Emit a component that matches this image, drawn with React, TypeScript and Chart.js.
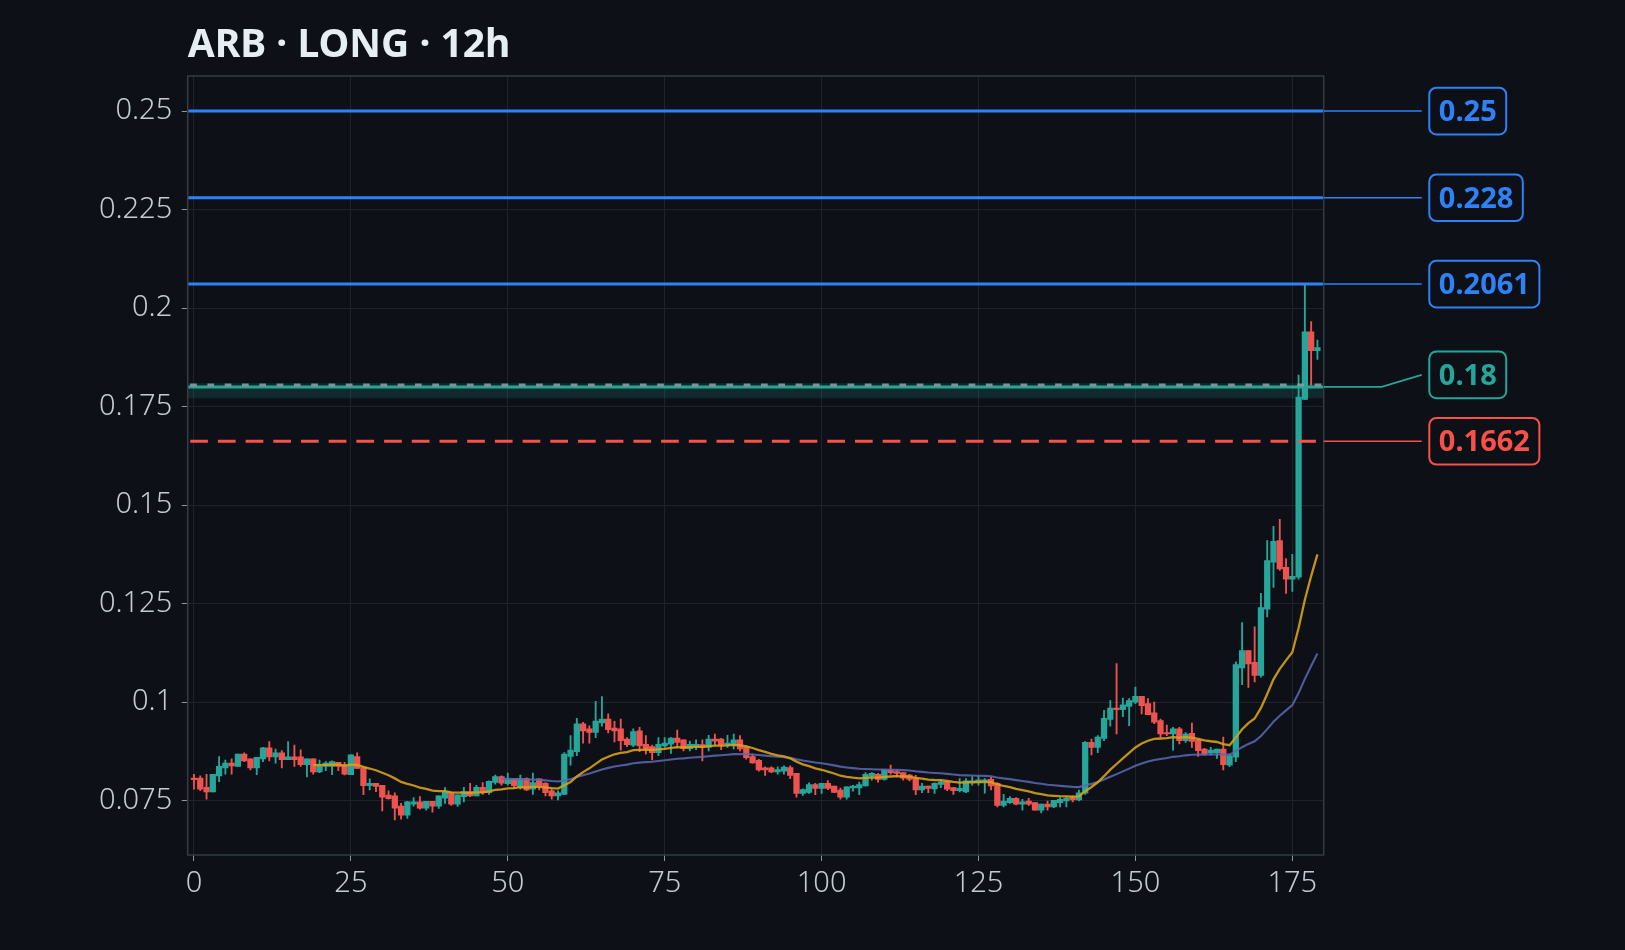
import React, { useEffect, useRef } from "react";
import { Chart, registerables } from "chart.js";

Chart.register(...registerables);

// ---------------- data ----------------
const TITLE = "ARB · LONG · 12h";

const OPEN = [
  0.0807, 0.0807, 0.0784, 0.0772, 0.0813, 0.0833, 0.0845, 0.0837, 0.0868, 0.0856,
  0.0833, 0.0856, 0.0884, 0.0861, 0.0871, 0.0854, 0.0861, 0.0861, 0.0841, 0.0856,
  0.0823, 0.0837, 0.0837, 0.0847, 0.0840, 0.0816, 0.0862, 0.0834, 0.0788, 0.0794,
  0.0789, 0.0764, 0.0762, 0.0736, 0.0713, 0.0741, 0.0747, 0.0731, 0.0748, 0.0736,
  0.0756, 0.0770, 0.0741, 0.0760, 0.0773, 0.0762, 0.0784, 0.0770, 0.0796, 0.0811,
  0.0793, 0.0805, 0.0783, 0.0806, 0.0779, 0.0805, 0.0794, 0.0775, 0.0762, 0.0766,
  0.0862, 0.0874, 0.0945, 0.0932, 0.0923, 0.0947, 0.0957, 0.0934, 0.0932, 0.0906,
  0.0891, 0.0927, 0.0893, 0.0887, 0.0872, 0.0889, 0.0893, 0.0909, 0.0904, 0.0882,
  0.0887, 0.0892, 0.0885, 0.0906, 0.0906, 0.0891, 0.0891, 0.0904, 0.0885, 0.0862,
  0.0852, 0.0833, 0.0833, 0.0823, 0.0825, 0.0834, 0.0819, 0.0768, 0.0771, 0.0791,
  0.0781, 0.0794, 0.0787, 0.0777, 0.0759, 0.0782, 0.0782, 0.0787, 0.0812, 0.0817,
  0.0804, 0.0828, 0.0824, 0.0821, 0.0815, 0.0807, 0.0777, 0.0787, 0.0780, 0.0791,
  0.0798, 0.0783, 0.0775, 0.0772, 0.0796, 0.0796, 0.0798, 0.0804, 0.0794, 0.0738,
  0.0745, 0.0756, 0.0741, 0.0749, 0.0745, 0.0726, 0.0741, 0.0734, 0.0745, 0.0749,
  0.0758, 0.0752, 0.0769, 0.0898, 0.0885, 0.0908, 0.0956, 0.0985, 0.0981, 0.0989,
  0.1000, 0.1015, 0.0996, 0.0973, 0.0953, 0.0923, 0.0919, 0.0932, 0.0902, 0.0921,
  0.0904, 0.0881, 0.0871, 0.0872, 0.0881, 0.0840, 0.0860, 0.1087, 0.1131, 0.1101,
  0.1068, 0.1236, 0.1355, 0.1410, 0.1342, 0.1312, 0.1317, 0.1768, 0.1940, 0.1892,
];

const HIGH = [
  0.0817, 0.0813, 0.0817, 0.0817, 0.0862, 0.0853, 0.0856, 0.0868, 0.0871, 0.0856,
  0.0860, 0.0885, 0.0900, 0.0881, 0.0877, 0.0900, 0.0891, 0.0879, 0.0856, 0.0856,
  0.0853, 0.0849, 0.0851, 0.0847, 0.0847, 0.0866, 0.0871, 0.0834, 0.0805, 0.0794,
  0.0789, 0.0775, 0.0770, 0.0743, 0.0748, 0.0758, 0.0760, 0.0748, 0.0748, 0.0762,
  0.0783, 0.0770, 0.0765, 0.0784, 0.0794, 0.0789, 0.0796, 0.0800, 0.0815, 0.0813,
  0.0820, 0.0805, 0.0815, 0.0808, 0.0820, 0.0805, 0.0796, 0.0779, 0.0775, 0.0872,
  0.0915, 0.0959, 0.0949, 0.0940, 0.1002, 0.1014, 0.0970, 0.0951, 0.0957, 0.0910,
  0.0932, 0.0936, 0.0915, 0.0891, 0.0910, 0.0910, 0.0910, 0.0929, 0.0904, 0.0901,
  0.0904, 0.0904, 0.0916, 0.0919, 0.0908, 0.0916, 0.0919, 0.0915, 0.0889, 0.0868,
  0.0855, 0.0836, 0.0836, 0.0836, 0.0838, 0.0838, 0.0819, 0.0780, 0.0795, 0.0794,
  0.0794, 0.0801, 0.0787, 0.0782, 0.0785, 0.0789, 0.0797, 0.0821, 0.0821, 0.0819,
  0.0829, 0.0840, 0.0827, 0.0821, 0.0817, 0.0814, 0.0794, 0.0787, 0.0795, 0.0803,
  0.0798, 0.0783, 0.0806, 0.0806, 0.0811, 0.0812, 0.0806, 0.0809, 0.0796, 0.0766,
  0.0760, 0.0758, 0.0753, 0.0756, 0.0745, 0.0741, 0.0749, 0.0751, 0.0758, 0.0760,
  0.0762, 0.0777, 0.0900, 0.0906, 0.0915, 0.0979, 0.1004, 0.1098, 0.1010, 0.1009,
  0.1038, 0.1015, 0.1009, 0.1000, 0.0957, 0.0942, 0.0936, 0.0936, 0.0923, 0.0947,
  0.0906, 0.0883, 0.0885, 0.0881, 0.0911, 0.0868, 0.1102, 0.1202, 0.1131, 0.1191,
  0.1276, 0.1410, 0.1446, 0.1464, 0.1364, 0.1375, 0.1830, 0.2061, 0.1966, 0.1919,
];

const LOW = [
  0.0779, 0.0775, 0.0754, 0.0772, 0.0798, 0.0817, 0.0817, 0.0837, 0.0849, 0.0828,
  0.0816, 0.0849, 0.0851, 0.0845, 0.0833, 0.0854, 0.0837, 0.0837, 0.0810, 0.0817,
  0.0821, 0.0826, 0.0816, 0.0826, 0.0815, 0.0816, 0.0832, 0.0765, 0.0777, 0.0773,
  0.0724, 0.0754, 0.0701, 0.0703, 0.0705, 0.0736, 0.0728, 0.0726, 0.0721, 0.0730,
  0.0743, 0.0738, 0.0735, 0.0747, 0.0760, 0.0762, 0.0766, 0.0766, 0.0792, 0.0789,
  0.0789, 0.0781, 0.0779, 0.0775, 0.0766, 0.0777, 0.0762, 0.0754, 0.0752, 0.0766,
  0.0840, 0.0864, 0.0896, 0.0896, 0.0910, 0.0939, 0.0922, 0.0899, 0.0878, 0.0887,
  0.0887, 0.0874, 0.0868, 0.0853, 0.0864, 0.0885, 0.0870, 0.0885, 0.0876, 0.0876,
  0.0879, 0.0851, 0.0876, 0.0891, 0.0879, 0.0885, 0.0881, 0.0876, 0.0855, 0.0845,
  0.0825, 0.0814, 0.0821, 0.0817, 0.0817, 0.0806, 0.0759, 0.0763, 0.0768, 0.0765,
  0.0768, 0.0778, 0.0770, 0.0754, 0.0754, 0.0774, 0.0765, 0.0787, 0.0802, 0.0797,
  0.0802, 0.0817, 0.0811, 0.0802, 0.0800, 0.0765, 0.0770, 0.0770, 0.0768, 0.0783,
  0.0775, 0.0766, 0.0772, 0.0770, 0.0789, 0.0789, 0.0769, 0.0777, 0.0734, 0.0734,
  0.0743, 0.0739, 0.0726, 0.0738, 0.0726, 0.0719, 0.0726, 0.0732, 0.0734, 0.0734,
  0.0747, 0.0749, 0.0766, 0.0866, 0.0872, 0.0902, 0.0939, 0.0919, 0.0963, 0.0940,
  0.0996, 0.0970, 0.0968, 0.0945, 0.0911, 0.0915, 0.0878, 0.0894, 0.0898, 0.0885,
  0.0862, 0.0866, 0.0866, 0.0857, 0.0828, 0.0836, 0.0849, 0.1044, 0.1037, 0.1051,
  0.1063, 0.1216, 0.1291, 0.1334, 0.1276, 0.1281, 0.1312, 0.1768, 0.1804, 0.1870,
];

const CLOSE = [
  0.0803, 0.0779, 0.0772, 0.0817, 0.0837, 0.0845, 0.0838, 0.0868, 0.0851, 0.0833,
  0.0860, 0.0884, 0.0861, 0.0871, 0.0854, 0.0861, 0.0854, 0.0841, 0.0856, 0.0823,
  0.0838, 0.0845, 0.0849, 0.0837, 0.0817, 0.0866, 0.0832, 0.0788, 0.0794, 0.0786,
  0.0759, 0.0755, 0.0731, 0.0713, 0.0747, 0.0747, 0.0731, 0.0748, 0.0736, 0.0762,
  0.0772, 0.0741, 0.0765, 0.0773, 0.0762, 0.0784, 0.0770, 0.0799, 0.0811, 0.0794,
  0.0805, 0.0788, 0.0806, 0.0777, 0.0796, 0.0788, 0.0770, 0.0762, 0.0770, 0.0868,
  0.0878, 0.0945, 0.0927, 0.0923, 0.0952, 0.0957, 0.0930, 0.0927, 0.0902, 0.0892,
  0.0925, 0.0889, 0.0882, 0.0872, 0.0893, 0.0896, 0.0909, 0.0898, 0.0882, 0.0893,
  0.0893, 0.0885, 0.0906, 0.0901, 0.0891, 0.0896, 0.0904, 0.0881, 0.0859, 0.0846,
  0.0828, 0.0828, 0.0823, 0.0829, 0.0835, 0.0814, 0.0768, 0.0778, 0.0791, 0.0781,
  0.0794, 0.0781, 0.0771, 0.0759, 0.0785, 0.0787, 0.0791, 0.0817, 0.0819, 0.0804,
  0.0829, 0.0821, 0.0819, 0.0807, 0.0804, 0.0777, 0.0787, 0.0781, 0.0794, 0.0798,
  0.0779, 0.0775, 0.0781, 0.0800, 0.0800, 0.0803, 0.0803, 0.0787, 0.0738, 0.0749,
  0.0756, 0.0741, 0.0747, 0.0741, 0.0726, 0.0741, 0.0734, 0.0751, 0.0753, 0.0756,
  0.0752, 0.0770, 0.0898, 0.0885, 0.0911, 0.0959, 0.0985, 0.0981, 0.0993, 0.1004,
  0.1015, 0.0991, 0.0968, 0.0949, 0.0919, 0.0919, 0.0932, 0.0902, 0.0919, 0.0900,
  0.0877, 0.0868, 0.0878, 0.0881, 0.0841, 0.0864, 0.1095, 0.1131, 0.1097, 0.1068,
  0.1240, 0.1359, 0.1408, 0.1338, 0.1312, 0.1319, 0.1774, 0.1940, 0.1892, 0.1900,
];

const EMA_SPANS = [20, 50];

const LEVEL_VALUES = [0.25, 0.228, 0.2061, 0.18, 0.1662];
const LEVEL_TEXT = ["0.25", "0.228", "0.2061", "0.18", "0.1662"];
const LEVEL_KIND = ["target", "target", "target", "entry", "stop"];

const ENTRY_ZONE = [0.1771, 0.1809];
const MARK_PRICE = 0.1805;

const X_TICK_STEP = 25;
const Y_TICK_STEP = 0.025;
const X_RANGE = [-1, 180];
const Y_RANGE = [0.0612, 0.2589];

// ---------------- styles ----------------
const BG = "#0d1117";
const UP = "#26a69a";
const DOWN = "#ef5350";
const KIND_COLOR: Record<string, string> = {
  target: "#2f81f7",
  entry: "#26a69a",
  stop: "#f85149",
};
const EMA_COLORS = ["rgba(214,160,24,0.9)", "rgba(92,104,180,0.85)"];
const GRID = "#1f242b";
const SPINE = "#353b43";
const TICK_TEXT = "#c2cad3";
const FONT = '"Noto Sans", "Open Sans", sans-serif';

function ema(values: number[], span: number) {
  const a = 2 / (span + 1);
  const out: { x: number; y: number }[] = [];
  let prev = 0;
  for (let i = 0; i < values.length; i++) {
    if (i < span - 1) continue;
    if (i === span - 1) {
      let s = 0;
      for (let k = 0; k < span; k++) s += values[k];
      prev = s / span;
    } else {
      prev = prev + a * (values[i] - prev);
    }
    out.push({ x: i, y: prev });
  }
  return out;
}

const hline = (v: number) => [
  { x: X_RANGE[0], y: v },
  { x: X_RANGE[1], y: v },
];

const bgPlugin = {
  id: "bg",
  beforeDraw(chart: any) {
    const { ctx, width, height } = chart;
    ctx.save();
    ctx.fillStyle = BG;
    ctx.fillRect(0, 0, width, height);
    ctx.restore();
  },
};

const overlayPlugin = {
  id: "overlay",
  afterDraw(chart: any) {
    const { ctx, chartArea } = chart;
    const y = chart.scales.y;
    ctx.save();
    // frame
    ctx.strokeStyle = SPINE;
    ctx.lineWidth = 1.5;
    ctx.strokeRect(
      chartArea.left,
      chartArea.top,
      chartArea.right - chartArea.left,
      chartArea.bottom - chartArea.top
    );
    // title
    ctx.fillStyle = "#e6edf3";
    ctx.font = `bold 39px ${FONT}`;
    ctx.textBaseline = "alphabetic";
    ctx.textAlign = "left";
    ctx.fillText(TITLE, chartArea.left, 56.5);

    // level labels
    const items = LEVEL_VALUES.map((v, i) => ({
      text: LEVEL_TEXT[i],
      color: KIND_COLOR[LEVEL_KIND[i]],
      lineY: y.getPixelForValue(v),
      labelY: 0,
    }));
    items.sort((a, b) => b.lineY - a.lineY);
    const MIN_GAP = 66.4;
    let prev = Infinity;
    for (const it of items) {
      it.labelY = Math.min(it.lineY, prev - MIN_GAP);
      prev = it.labelY;
    }
    const boxX = chartArea.right + 105.6;
    const boxH = 46.7;
    ctx.font = `bold 29px ${FONT}`;
    for (const it of items) {
      ctx.strokeStyle = it.color;
      ctx.lineWidth = 1.6;
      ctx.beginPath();
      ctx.moveTo(chartArea.right, it.lineY);
      if (Math.abs(it.labelY - it.lineY) > 0.5) {
        ctx.lineTo(chartArea.right + 58, it.lineY);
      }
      ctx.lineTo(boxX - 7.6, it.labelY);
      ctx.stroke();

      const tw = ctx.measureText(it.text).width;
      const w = tw + 19;
      ctx.beginPath();
      ctx.roundRect(boxX, it.labelY - boxH / 2, w, boxH, 7);
      ctx.fillStyle = BG;
      ctx.fill();
      ctx.lineWidth = 2;
      ctx.stroke();
      ctx.fillStyle = it.color;
      ctx.fillText(it.text, boxX + 9.5, it.labelY + 9.8);
    }
    ctx.restore();
  },
};

export default function App() {
  const ref = useRef<HTMLCanvasElement | null>(null);

  useEffect(() => {
    if (!ref.current) return;
    const candleColors = CLOSE.map((c, i) => (c >= OPEN[i] ? UP : DOWN));
    const wicks = HIGH.map((h, i) => ({ x: i, y: [LOW[i], h] }));
    const bodies = OPEN.map((o, i) => ({ x: i, y: [o, CLOSE[i]] }));

    const levelDatasets: any[] = LEVEL_VALUES.map((v, i) => {
      const kind = LEVEL_KIND[i];
      return {
        type: "line",
        data: hline(v),
        borderColor: KIND_COLOR[kind],
        borderWidth: 3,
        borderDash: kind === "stop" ? [17.7, 10] : [],
        borderDashOffset: kind === "stop" ? -2.5 : 0,
        pointRadius: 0,
        order: 0,
      };
    });

    const chart = new Chart(ref.current, {
      type: "bar",
      data: {
        datasets: [
          {
            type: "line",
            data: hline(ENTRY_ZONE[1]),
            borderWidth: 0,
            borderColor: "rgba(0,0,0,0)",
            backgroundColor: "rgba(38,166,154,0.16)",
            fill: { value: ENTRY_ZONE[0] },
            pointRadius: 0,
            order: 6,
          } as any,
          {
            type: "bar",
            data: wicks as any,
            backgroundColor: candleColors,
            barThickness: 1.2,
            grouped: false,
            borderWidth: 0,
            order: 4,
          } as any,
          {
            type: "bar",
            data: bodies as any,
            backgroundColor: candleColors,
            barThickness: 5.6,
            grouped: false,
            minBarLength: 1,
            borderWidth: 0,
            order: 3,
          } as any,
          ...EMA_SPANS.map((s, k) => ({
            type: "line",
            data: ema(CLOSE, s),
            borderColor: EMA_COLORS[k],
            borderWidth: k === 0 ? 2.3 : 2.1,
            pointRadius: 0,
            tension: 0,
            order: 2,
          })),
          {
            type: "line",
            data: hline(MARK_PRICE),
            borderColor: "rgba(150,158,168,0.85)",
            borderWidth: 2.8,
            borderDash: [6.7, 10.6],
            borderDashOffset: -2.4,
            pointRadius: 0,
            order: 0,
          },
          ...levelDatasets,
        ] as any,
      },
      options: {
        animation: false,
        responsive: false,
        devicePixelRatio: 1,
        events: [],
        layout: { padding: { left: 0, top: 76, right: 301.3, bottom: 0 } },
        plugins: {
          legend: { display: false },
          tooltip: { enabled: false },
          title: { display: false },
        },
        scales: {
          x: {
            type: "linear",
            min: X_RANGE[0],
            max: X_RANGE[1],
            offset: false,
            grid: {
              offset: false,
              color: GRID,
              lineWidth: 1,
              tickColor: "#8d959f",
              tickLength: 6,
              drawTicks: true,
            },
            border: { display: false },
            ticks: {
              stepSize: X_TICK_STEP,
              includeBounds: false,
              color: TICK_TEXT,
              padding: 5,
              font: { family: FONT, size: 29, weight: "300" as any },
              maxRotation: 0,
              callback: (v: any) => String(v),
            },
            afterFit: (s: any) => {
              s.height = 95;
            },
          },
          y: {
            type: "linear",
            min: Y_RANGE[0],
            max: Y_RANGE[1],
            beginAtZero: false,
            grid: {
              color: GRID,
              lineWidth: 1,
              tickColor: "#8d959f",
              tickLength: 6,
            },
            border: { display: false },
            ticks: {
              stepSize: Y_TICK_STEP,
              includeBounds: false,
              color: TICK_TEXT,
              padding: 9.5,
              font: { family: FONT, size: 29, weight: "300" as any },
              callback: (v: any) => String(Number(Number(v).toFixed(4))),
            },
            afterFit: (s: any) => {
              s.width = 187.7;
            },
          },
        },
      } as any,
      plugins: [bgPlugin, overlayPlugin],
    });
    return () => chart.destroy();
  }, []);

  return (
    <div
      style={{
        position: "fixed",
        left: 0,
        top: 0,
        width: 1625,
        height: 950,
        background: BG,
      }}
    >
      <canvas ref={ref} width={1625} height={950} style={{ width: 1625, height: 950 }} />
    </div>
  );
}
